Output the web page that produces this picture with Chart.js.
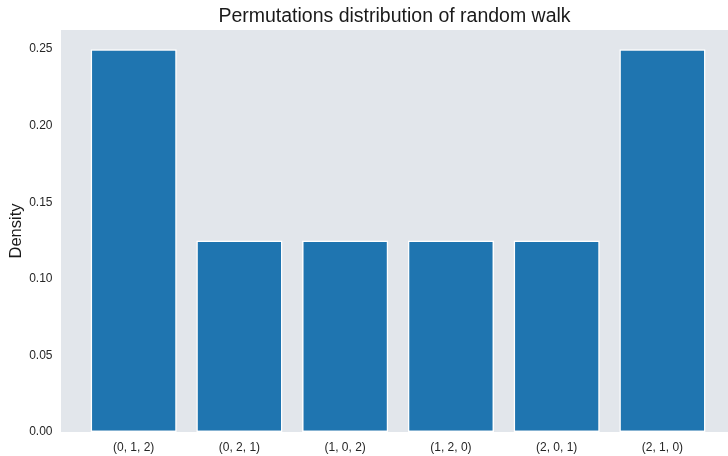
<!DOCTYPE html>
<html>
<head>
<meta charset="utf-8">
<script src="https://cdn.jsdelivr.net/npm/chart.js@4.4.1/dist/chart.umd.min.js"></script>
<style>
  html, body { margin: 0; padding: 0; background: #fff; }
  #wrap { width: 728px; height: 456px; }
</style>
</head>
<body>
<div id="wrap"><canvas id="chart" width="728" height="456"></canvas></div>
<script>
// permutations (ordinal patterns of length 3)
const categories = ['(0, 1, 2)', '(0, 2, 1)', '(1, 0, 2)', '(1, 2, 0)', '(2, 0, 1)', '(2, 1, 0)'];
const density = [0.25, 0.125, 0.125, 0.125, 0.125, 0.25];
const yTicks = [0, 0.05, 0.10, 0.15, 0.20, 0.25];

const FONT = "'Liberation Sans', Arial, sans-serif";

// fond gris de la zone de tracé
const plotBg = {
  id: 'plotBg',
  beforeDatasetsDraw(chart) {
    const { ctx, chartArea: a } = chart;
    ctx.save();
    ctx.fillStyle = '#e2e6eb';
    ctx.fillRect(a.left, a.top, a.right - a.left, a.bottom - a.top);
    ctx.restore();
  }
};

new Chart(document.getElementById('chart'), {
  type: 'bar',
  data: {
    datasets: [{
      data: density.map((v, i) => ({ x: i, y: v })),
      backgroundColor: '#1f75b0',
      borderColor: '#ffffff',
      borderWidth: 1.5,
      borderSkipped: false,
      categoryPercentage: 1,
      barPercentage: 0.815
    }]
  },
  options: {
    responsive: false,
    animation: false,
    layout: { padding: 0 },
    plugins: {
      legend: { display: false },
      tooltip: { enabled: false },
      title: {
        display: true,
        text: 'Permutations distribution of random walk',
        color: '#1a1a1a',
        fullSize: false,
        font: { family: FONT, size: 19.5, weight: 'normal' },
        padding: { top: 5, bottom: 1.6 }
      }
    },
    scales: {
      x: {
        type: 'linear',
        offset: false,
        min: -0.687,
        max: 5.62,
        grid: { display: false, drawTicks: false, offset: false },
        border: { display: false },
        ticks: {
          color: '#262626',
          font: { family: FONT, size: 12 },
          padding: 8,
          maxRotation: 0,
          callback: v => categories[v]
        },
        afterBuildTicks: scale => { scale.ticks = categories.map((c, i) => ({ value: i })); },
        afterFit: scale => { scale.height = 24; }
      },
      y: {
        min: 0,
        max: 0.2625,
        grid: { display: false, drawTicks: false },
        border: { display: false },
        ticks: {
          color: '#262626',
          font: { family: FONT, size: 12 },
          padding: 8.5,
          callback: v => v.toFixed(2)
        },
        afterBuildTicks: scale => { scale.ticks = yTicks.map(v => ({ value: v })); },
        afterFit: scale => { scale.width = 61; },
        title: {
          display: true,
          text: 'Density',
          color: '#1a1a1a',
          font: { family: FONT, size: 16.5 },
          padding: { top: 7, bottom: 0 }
        }
      }
    }
  },
  plugins: [plotBg]
});
</script>
</body>
</html>
